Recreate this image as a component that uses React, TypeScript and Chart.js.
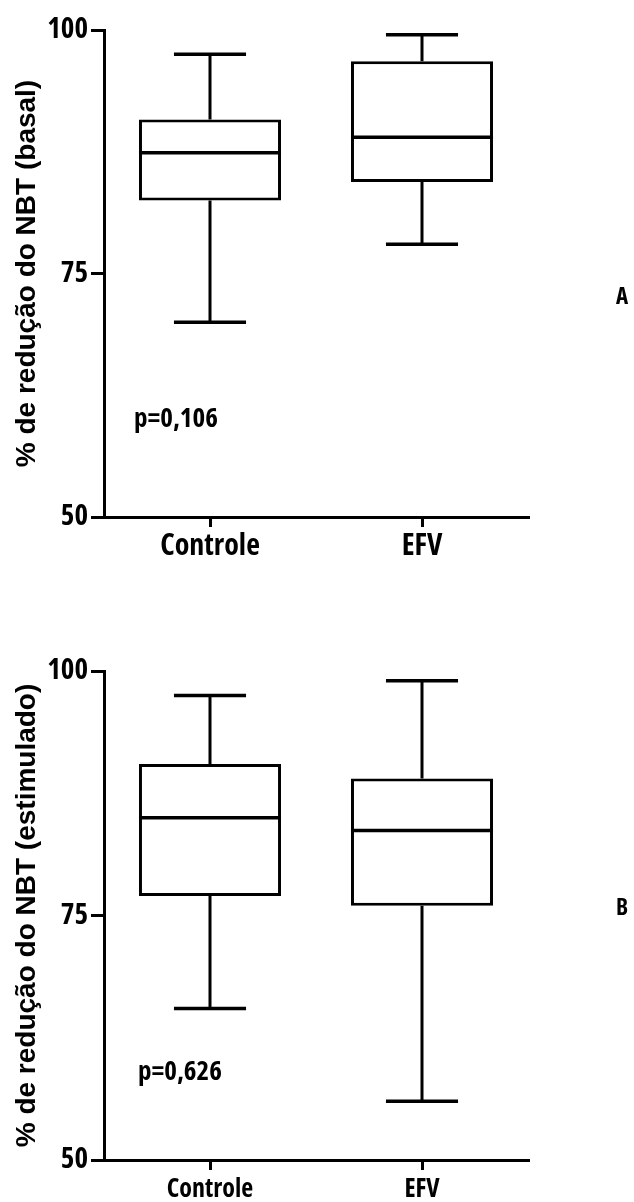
import React, { useEffect, useRef } from 'react';
import { Chart, registerables } from 'chart.js';

Chart.register(...registerables);

// ---------- data ----------
const CATEGORIES = ['Controle', 'EFV'];
const Y_MIN = 50;
const Y_MAX = 100;
const Y_STEP = 25;

// Panel A – basal
const A_MIN = [70, 78];
const A_Q1 = [82.5, 84.4];
const A_MEDIAN = [87.4, 89];
const A_Q3 = [90.8, 96.8];
const A_MAX = [97.5, 99.5];
const A_TITLE = '% de redução do NBT (basal)';
const A_PTEXT = 'p=0,106';
const A_PANEL = 'A';

// Panel B – estimulado
const B_MIN = [65.5, 56];
const B_Q1 = [77, 76];
const B_MEDIAN = [85, 83.7];
const B_Q3 = [90.5, 89];
const B_MAX = [97.5, 99];
const B_TITLE = '% de redução do NBT (estimulado)';
const B_PTEXT = 'p=0,626';
const B_PANEL = 'B';

// ---------- style ----------
const NARROW = '"Open Sans", "DejaVu Sans Condensed", sans-serif';
const NARROW_WEIGHT = 'condensed bold';
const WIDE = '"Liberation Sans", Arial, "DejaVu Sans", sans-serif';
const W = 634;
const H = 601;

type Panel = {
  min: number[]; q1: number[]; med: number[]; q3: number[]; max: number[];
  title: string; ptext: string; panel: string;
  top: number; bottom: number; pValueY: number; pOffset: number; panelY: number;
  labelPad: number; labelSize: number;
};

const PANELS: Panel[] = [
  { min: A_MIN, q1: A_Q1, med: A_MEDIAN, q3: A_Q3, max: A_MAX, title: A_TITLE, ptext: A_PTEXT, panel: A_PANEL,
    top: 30, bottom: 517, pValueY: 60, pOffset: 30, panelY: 297, labelPad: 1, labelSize: 30 },
  { min: B_MIN, q1: B_Q1, med: B_MEDIAN, q3: B_Q3, max: B_MAX, title: B_TITLE, ptext: B_PTEXT, panel: B_PANEL,
    top: 70, bottom: 559, pValueY: 59, pOffset: 34, panelY: 307, labelPad: 4, labelSize: 26 },
];

const LEFT = 104;
const RIGHT = 528;
const BOX_FRAC = 0.67;
const CAP_FRAC = 0.34;

function makePlugin(p: Panel) {
  return {
    id: 'boxWhiskers',
    afterDatasetsDraw(chart: any) {
      const { ctx, scales } = chart;
      const x = scales.x;
      const y = scales.y;
      const catW = x.getPixelForValue(1) - x.getPixelForValue(0);
      const boxW = catW * BOX_FRAC;
      const capW = catW * CAP_FRAC;
      ctx.save();
      ctx.strokeStyle = '#000';
      ctx.lineCap = 'butt';
      for (let i = 0; i < CATEGORIES.length; i++) {
        const cx = x.getPixelForValue(i);
        const yMin = y.getPixelForValue(p.min[i]);
        const yMax = y.getPixelForValue(p.max[i]);
        const yQ1 = y.getPixelForValue(p.q1[i]);
        const yQ3 = y.getPixelForValue(p.q3[i]);
        const yMed = y.getPixelForValue(p.med[i]);
        ctx.lineWidth = 3;
        ctx.beginPath();
        ctx.moveTo(cx, yQ3); ctx.lineTo(cx, yMax);
        ctx.moveTo(cx, yQ1); ctx.lineTo(cx, yMin);
        ctx.stroke();
        ctx.lineWidth = 3.5;
        ctx.beginPath();
        ctx.moveTo(cx - capW / 2, yMax); ctx.lineTo(cx + capW / 2, yMax);
        ctx.moveTo(cx - capW / 2, yMin); ctx.lineTo(cx + capW / 2, yMin);
        ctx.moveTo(cx - boxW / 2, yMed); ctx.lineTo(cx + boxW / 2, yMed);
        ctx.stroke();
      }
      ctx.fillStyle = '#000';
      ctx.font = `${NARROW_WEIGHT} 27px ${NARROW}`;
      ctx.textAlign = 'left';
      ctx.textBaseline = 'middle';
      ctx.fillText(p.ptext, chart.chartArea.left + p.pOffset, y.getPixelForValue(p.pValueY));
      ctx.font = `${NARROW_WEIGHT} 23px ${NARROW}`;
      ctx.textAlign = 'center';
      ctx.fillText(p.panel, 622, p.panelY);
      ctx.restore();
    },
  };
}

function BoxChart({ p }: { p: Panel }) {
  const ref = useRef<HTMLCanvasElement | null>(null);
  useEffect(() => {
    if (!ref.current) return;
    const chart = new Chart(ref.current, {
      type: 'bar',
      data: {
        labels: CATEGORIES,
        datasets: [
          {
            data: CATEGORIES.map((_, i) => [p.q1[i], p.q3[i]]) as any,
            backgroundColor: '#ffffff',
            borderColor: '#000000',
            borderWidth: 3,
            borderSkipped: false,
            barPercentage: BOX_FRAC,
            categoryPercentage: 1,
          },
        ],
      },
      options: {
        responsive: false,
        animation: false,
        devicePixelRatio: 1,
        layout: { padding: { top: p.top, right: W - RIGHT, left: 0, bottom: 0 } },
        plugins: { legend: { display: false }, tooltip: { enabled: false }, title: { display: false } },
        scales: {
          x: {
            type: 'category',
            offset: true,
            grid: { display: true, drawOnChartArea: false, drawTicks: true, tickLength: 10, offset: false, color: '#000', lineWidth: 3 },
            border: { display: true, color: '#000', width: 3 },
            ticks: { color: '#000', padding: p.labelPad, font: { family: NARROW, size: p.labelSize, weight: NARROW_WEIGHT } },
            afterFit: (s: any) => { s.height = H - p.bottom; },
          },
          y: {
            min: Y_MIN,
            max: Y_MAX,
            grid: { display: true, drawOnChartArea: false, drawTicks: true, tickLength: 13, color: '#000', lineWidth: 3 },
            border: { display: true, color: '#000', width: 3 },
            ticks: { stepSize: Y_STEP, color: '#000', padding: 3, font: { family: NARROW, size: 29, weight: NARROW_WEIGHT } },
            title: {
              display: true,
              text: p.title,
              color: '#000',
              font: { family: WIDE, size: 28, weight: 'bold' },
              padding: { top: 10, bottom: 0 },
            },
            afterFit: (s: any) => { s.width = LEFT; },
          },
        },
      },
      plugins: [makePlugin(p)],
    } as any);
    return () => chart.destroy();
  }, [p]);
  return <canvas ref={ref} width={W} height={H} style={{ display: 'block', width: W, height: H }} />;
}

export default function App() {
  return (
    <div style={{ position: 'absolute', left: 0, top: 0, width: W, height: 1202, background: '#fff' }}>
      <BoxChart p={PANELS[0]} />
      <BoxChart p={PANELS[1]} />
    </div>
  );
}
